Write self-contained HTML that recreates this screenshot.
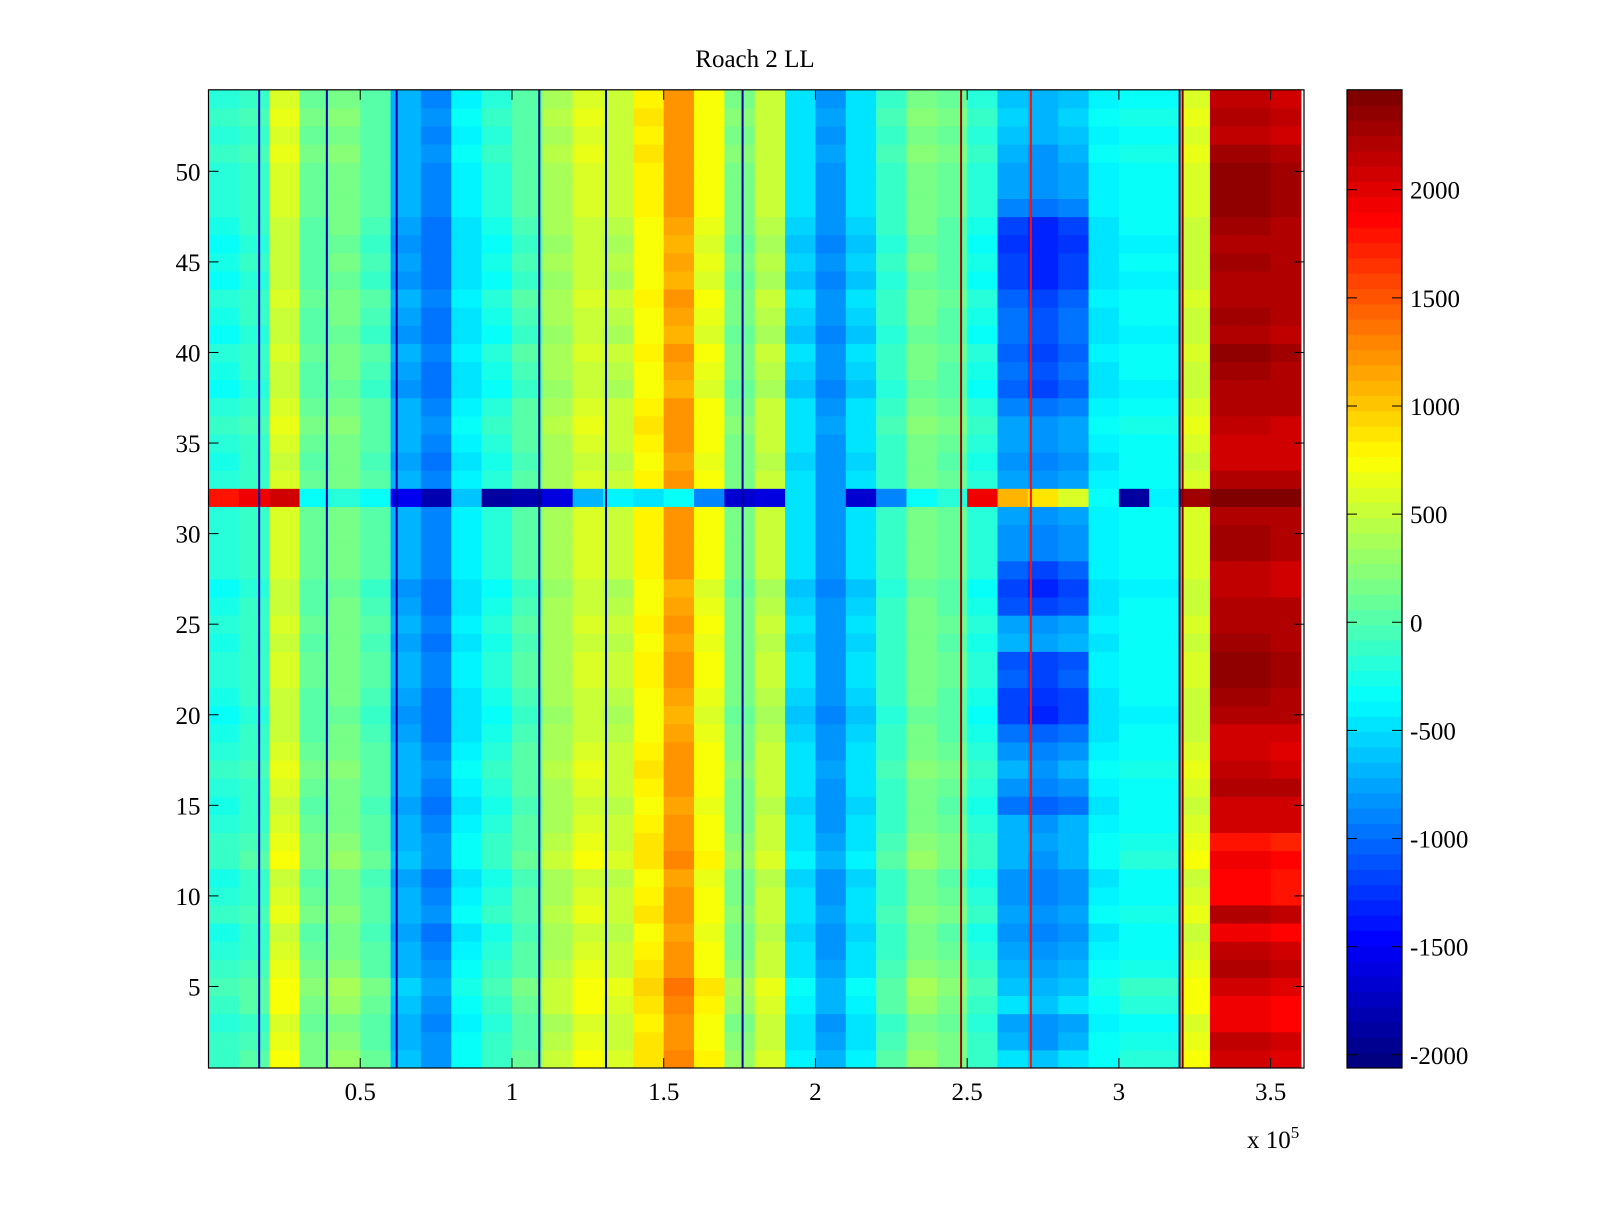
<!DOCTYPE html>
<html><head><meta charset="utf-8"><style>
body{margin:0;background:#fff;}
svg text{font-family:"Liberation Serif",serif;font-size:25px;fill:#000;}
</style></head><body>
<svg id="chart" width="1600" height="1200" xmlns="http://www.w3.org/2000/svg">
<rect width="1600" height="1200" fill="#fff"/>
<text x="755" y="67" text-anchor="middle">Roach 2 LL</text>
<g id="cells"></g>
<g id="axes"></g>
<g id="cbar"></g>
<text x="1247" y="1148">x 10<tspan dy="-10" font-size="17">5</tspan></text>
</svg>
<script>
// column means per 0.1e5 bin (36 bins 0..3.6e5)
const colMeans=[-200,-100,600,100,200,0,-700,-900,-400,-200,0,400,600,500,800,1200,700,200,500,-500,-800,-500,-100,200,100,-200,-600,-700,-600,-400,-300,-300,600,2350,2350,2300];
// row offsets for rows 1..54
const rowOffsets=[100,50,0,100,150,50,0,-50,50,0,-50,100,50,0,-50,0,50,0,-50,-100,-50,0,0,-50,0,-50,-100,0,0,0,0,0,0,-50,0,50,0,-100,-50,0,-100,-50,0,-100,-50,-100,-50,0,0,0,50,0,50,0];
// extra depression of blue patch (cols 2.6-2.9e5) per row
const patchRows=[0,-150,-150,0,-150,-100,-150,-150,-200,-200,-150,-200,-100,-100,-300,-200,-150,-200,-300,-500,-500,-450,-500,0,-150,-450,-500,-450,-200,-200,-150,0,-150,-150,-150,-200,-300,-350,-350,-450,-300,-350,-450,-500,-550,-550,-550,-300,-150,-150,-150,0,0,0];
// right dark block adjustment per row (cols 3.3-3.6e5)
const rightRows=[-400,-250,-450,-550,-450,-200,-200,-400,-200,-500,-450,-550,-600,-250,-200,-100,-250,-300,-200,0,0,0,0,0,-100,-50,-100,-200,-50,-50,-100,0,-100,-200,-250,-250,-100,0,0,0,-50,0,-100,0,0,0,0,0,0,0,-100,-200,-200,-200];
// special row 32 values
const row32=[1800,1900,2100,-300,-200,-300,-1500,-1800,-600,-1900,-1800,-1600,-700,-400,-500,-300,-900,-1700,-1600,-500,-800,-1700,-900,-300,-200,1900,1100,900,600,-300,-1900,-400,2300,2400,2400,2400];
// thin vertical stripes: x positions (x1e5) and values
const lineX=[0.167,0.39,0.62,1.09,1.31,1.76,2.48,2.71,3.21,3.2];
const lineV=[-1800,-1900,-1900,-2000,-2000,-1900,2300,1800,2400,-2000];
const xTicks=[0.5,1,1.5,2,2.5,3,3.5];
const yTicks=[5,10,15,20,25,30,35,40,45,50];
const cTicks=[-2000,-1500,-1000,-500,0,500,1000,1500,2000];

const X0=208.5,X1=1304,Y0=89.8,Y1=1068,XMAX=3.61,VMIN=-2061,VMAX=2462;
const xs=v=>X0+v/XMAX*(X1-X0);
const ys=r=>Y1-(r-0.5)/54*(Y1-Y0);
function jet(v){let t=(v-VMIN)/(VMAX-VMIN);t=Math.max(0,Math.min(1,t));t=Math.floor(t*63.999)/63;
 const f=x=>Math.max(0,Math.min(1,x));
 const r=f(Math.min(4*t-1.5,-4*t+4.5)),g=f(Math.min(4*t-0.5,-4*t+3.5)),b=f(Math.min(4*t+0.5,-4*t+2.5));
 return `rgb(${Math.round(r*255)},${Math.round(g*255)},${Math.round(b*255)})`;}
const NS='http://www.w3.org/2000/svg';
function mk(p,tag,a){const e=document.createElementNS(NS,tag);for(const k in a)e.setAttribute(k,a[k]);p.appendChild(e);return e;}
const cells=document.getElementById('cells');
for(let r=1;r<=54;r++){for(let c=0;c<colMeans.length;c++){
 let v=colMeans[c]+rowOffsets[r-1];
 if(c>=26&&c<=28)v+=patchRows[r-1];
 if(c>=33)v+=rightRows[r-1];
 if(r===32)v=row32[c];
 const x1=Math.min(xs((c+1)*0.1),X1);
 const e=mk(cells,'rect',{x:xs(c*0.1),y:ys(r+0.5),width:x1-xs(c*0.1)+0.5,height:ys(r-0.5)-ys(r+0.5)+0.5,fill:jet(v)});
 
 
}}
lineX.forEach((lx,i)=>{const e=mk(cells,'rect',{x:xs(lx)-1,y:Y0,width:2,height:Y1-Y0,fill:jet(lineV[i])});
 
 });
const ax=document.getElementById('axes');
mk(ax,'rect',{x:X0,y:Y0,width:X1-X0,height:Y1-Y0,fill:'none',stroke:'#000','stroke-width':1.2});
xTicks.forEach(t=>{const x=xs(t);mk(ax,'line',{x1:x,x2:x,y1:Y1,y2:Y1-10,stroke:'#000'});mk(ax,'line',{x1:x,x2:x,y1:Y0,y2:Y0+10,stroke:'#000'});
 const e=mk(ax,'text',{x:x,y:Y1+32,'text-anchor':'middle'});e.textContent=t;
 
 });
yTicks.forEach(t=>{const y=ys(t);mk(ax,'line',{x1:X0,x2:X0+10,y1:y,y2:y,stroke:'#000'});mk(ax,'line',{x1:X1,x2:X1-10,y1:y,y2:y,stroke:'#000'});
 const e=mk(ax,'text',{x:X0-8,y:y+9,'text-anchor':'end'});e.textContent=t;
 
 });
const cb=document.getElementById('cbar');
const CX0=1347,CX1=1402,cy=v=>Y1-(v-VMIN)/(VMAX-VMIN)*(Y1-Y0);
for(let i=0;i<64;i++){const v0=VMIN+i/64*(VMAX-VMIN),v1=VMIN+(i+1)/64*(VMAX-VMIN);
 const e=mk(cb,'rect',{x:CX0,y:cy(v1),width:CX1-CX0,height:cy(v0)-cy(v1)+0.5,fill:jet((v0+v1)/2)});
 
 }
mk(cb,'rect',{x:CX0,y:Y0,width:CX1-CX0,height:Y1-Y0,fill:'none',stroke:'#000','stroke-width':1.2});
cTicks.forEach(t=>{const y=cy(t);mk(cb,'line',{x1:CX0,x2:CX0+10,y1:y,y2:y,stroke:'#000'});mk(cb,'line',{x1:CX1,x2:CX1-10,y1:y,y2:y,stroke:'#000'});
 const e=mk(cb,'text',{x:CX1+8,y:y+9});e.textContent=t;
 
 });
</script>
</body></html>
